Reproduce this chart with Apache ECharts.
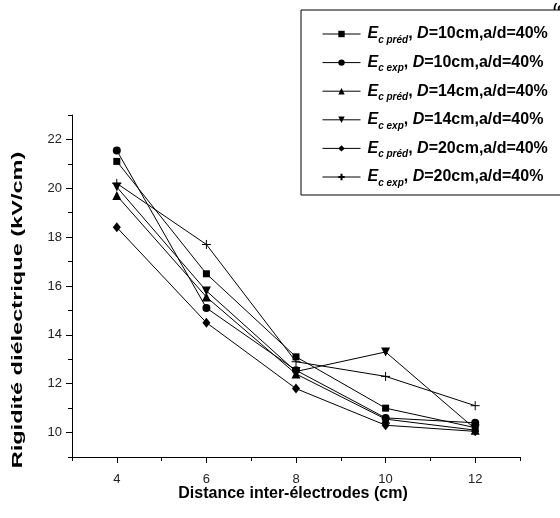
<!DOCTYPE html>
<html>
<head>
<meta charset="utf-8">
<script src="https://cdn.jsdelivr.net/npm/echarts@6/dist/echarts.min.js"></script>
<style>
html,body{margin:0;padding:0;background:#fff;}
#c{width:560px;height:518px;}
</style>
</head>
<body>
<div id="c"></div>
<script>
// Data
const distances = [4, 6, 8, 10, 12];
const ecPred10 = [21.1, 16.5, 13.1, 11.0, 10.2];
const ecExp10  = [21.55, 15.1, 12.55, 10.6, 10.4];
const ecPred14 = [19.7, 15.55, 12.4, 10.55, 10.1];
const ecExp14  = [20.05, 15.8, 12.5, 13.3, 10.15];
const ecPred20 = [18.4, 14.5, 11.8, 10.3, 10.05];
const ecExp20  = [20.2, 17.7, 12.9, 12.3, 11.1];

const xMajorTicks = [4, 6, 8, 10, 12];
const xMinorTicks = [3, 5, 7, 9, 11, 13];
const yMajorTicks = [10, 12, 14, 16, 18, 20, 22];
const yMinorTicks = [9, 11, 13, 15, 17, 19, 21, 23];

const seriesNames = ['Ec préd, D=10cm', 'Ec exp, D=10cm', 'Ec préd, D=14cm', 'Ec exp, D=14cm', 'Ec préd, D=20cm', 'Ec exp, D=20cm'];
const legendSub = ['c préd', 'c exp', 'c préd', 'c exp', 'c préd', 'c exp'];
const legendRest = ['=10cm,a/d=40%', '=10cm,a/d=40%', '=14cm,a/d=40%', '=14cm,a/d=40%', '=20cm,a/d=40%', '=20cm,a/d=40%'];
const seriesData = [ecPred10, ecExp10, ecPred14, ecExp14, ecPred20, ecExp20];

const symbols = ['rect', 'circle', 'triangle', 'path://M0,0 L10,0 L5,10 Z', 'diamond', 'path://M5,0 L5,10 M0,5 L10,5'];
const symbolSizes = [7, 8, 9, 9, [8, 10], 9];

const FONT = '"Liberation Sans", Arial, sans-serif';

const chart = echarts.init(document.getElementById('c'), null, {renderer: 'canvas'});

const series = seriesNames.map((name, i) => ({
  name: name,
  type: 'line',
  xAxisIndex: 0,
  yAxisIndex: 0,
  data: distances.map((d, j) => [d, seriesData[i][j]]),
  symbol: symbols[i],
  symbolSize: symbolSizes[i],
  showAllSymbol: true,
  lineStyle: {color: '#000', width: 1},
  itemStyle: i === 5 ? {color: 'none', borderColor: '#000', borderWidth: 1} : {color: '#000', borderWidth: 0},
  emphasis: {disabled: true},
  z: 3
}));

const option = {
  animation: false,
  backgroundColor: '#fff',
  grid: {left: 72, right: 40, top: 115, bottom: 61, containLabel: false},
  xAxis: [{
    type: 'value', min: 3, max: 13, position: 'bottom',
    axisLine: {show: true, lineStyle: {color: '#000', width: 1}},
    axisTick: {show: true, inside: false, length: 6, customValues: xMajorTicks, lineStyle: {color: '#000'}},
    axisLabel: {show: true, customValues: xMajorTicks, margin: 16, fontSize: 13, color: '#222', fontFamily: FONT},
    splitLine: {show: false}
  }, {
    type: 'value', min: 3, max: 13, position: 'bottom',
    axisLine: {show: false},
    axisTick: {show: true, inside: false, length: 4, customValues: xMinorTicks, lineStyle: {color: '#000'}},
    axisLabel: {show: false},
    splitLine: {show: false}
  }],
  yAxis: [{
    type: 'value', min: 9, max: 23, position: 'left',
    axisLine: {show: true, lineStyle: {color: '#000', width: 1}},
    axisTick: {show: true, inside: false, length: 6, customValues: yMajorTicks, lineStyle: {color: '#000'}},
    axisLabel: {show: true, customValues: yMajorTicks, margin: 10, fontSize: 13, color: '#222', fontFamily: FONT},
    splitLine: {show: false}
  }, {
    type: 'value', min: 9, max: 23, position: 'left',
    axisLine: {show: false},
    axisTick: {show: true, inside: false, length: 4, customValues: yMinorTicks, lineStyle: {color: '#000'}},
    axisLabel: {show: false},
    splitLine: {show: false}
  }],
  legend: {
    orient: 'vertical',
    left: 301, top: 10,
    padding: [16, 20, 7, 21],
    itemGap: 9.6,
    itemWidth: 38, itemHeight: 8,
    borderColor: '#000', borderWidth: 1,
    backgroundColor: '#fff',
    data: seriesNames,
    selectedMode: false,
    lineStyle: {width: 1, color: '#000'},
    formatter: function (name) {
      const i = seriesNames.indexOf(name);
      return '{e|E}{s|' + legendSub[i] + '}{t|, }{d|D}{t|' + legendRest[i] + '}';
    },
    textStyle: {
      color: '#000',
      fontFamily: FONT,
      rich: {
        e: {fontSize: 16, fontStyle: 'italic', fontWeight: 'bold', fontFamily: FONT, lineHeight: 22, verticalAlign: 'middle', padding: [0, 0, 0, 2]},
        s: {fontSize: 10, fontStyle: 'italic', fontWeight: 'bold', fontFamily: FONT, lineHeight: 12, verticalAlign: 'bottom'},
        t: {fontSize: 16, fontWeight: 'bold', fontFamily: FONT, lineHeight: 22, verticalAlign: 'middle'},
        d: {fontSize: 16, fontStyle: 'italic', fontWeight: 'bold', fontFamily: FONT, lineHeight: 22, verticalAlign: 'middle'}
      }
    },
    z: 10
  },
  graphic: [{
    type: 'text',
    x: 18, y: 310,
    rotation: Math.PI / 2,
    scaleX: 1.57,
    style: {text: 'Rigidité diélectrique (kV/cm)', font: 'bold 15px ' + FONT, fill: '#000', align: 'center', verticalAlign: 'middle'}
  }, {
    type: 'text',
    x: 293, y: 494,
    style: {text: 'Distance inter-électrodes (cm)', font: 'bold 16px ' + FONT, fill: '#000', align: 'center', verticalAlign: 'middle'}
  }, {
    type: 'text',
    x: 553, y: 2,
    style: {text: '(c)', font: 'bold 13px ' + FONT, fill: '#000', align: 'left', verticalAlign: 'top'}
  }],
  series: series
};

chart.setOption(option);
</script>
</body>
</html>
